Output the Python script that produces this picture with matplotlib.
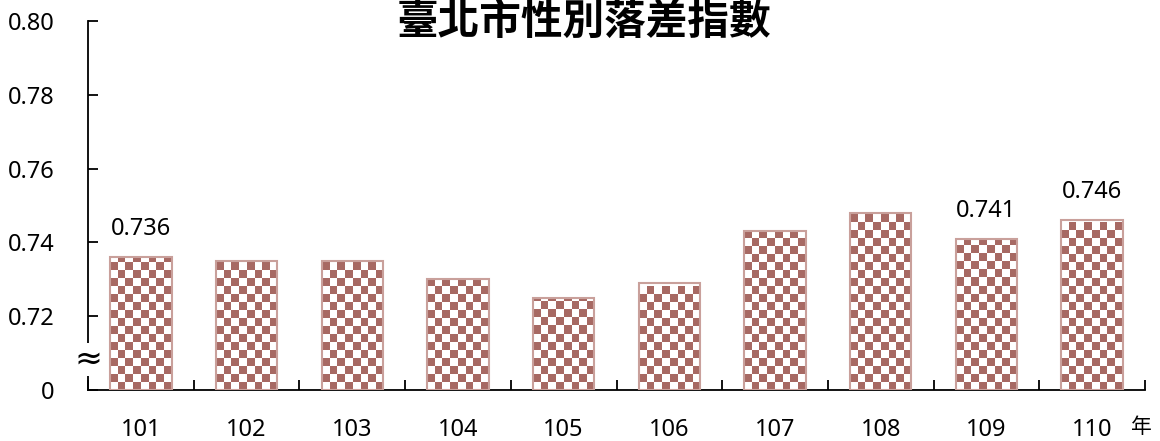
import numpy as np
import matplotlib
matplotlib.use("Agg")
import matplotlib.pyplot as plt
from matplotlib.colors import ListedColormap

plt.rcParams['font.family'] = ['Noto Sans', 'Noto Sans CJK TC', 'DejaVu Sans']

# datos
anios = ['101', '102', '103', '104', '105', '106', '107', '108', '109', '110']
valores = [0.736, 0.735, 0.735, 0.730, 0.725, 0.729, 0.743, 0.748, 0.741, 0.746]
etiquetas_valor = {0: '0.736', 8: '0.741', 9: '0.746'}
y_ticks = [0.70, 0.72, 0.74, 0.76, 0.78, 0.80]
y_labels = ['0', '0.72', '0.74', '0.76', '0.78', '0.80']
titulo = '臺北市性別落差指數'

marron = '#A76963'
borde = '#C9A09B'
base = 0.70

fig = plt.figure(figsize=(11.6, 4.41), dpi=100)
ax = fig.add_axes([88 / 1160, 51 / 441, 1057 / 1160, 369 / 441])

x = np.arange(len(anios))
ancho = 0.58
barras = ax.bar(x, np.array(valores) - base, bottom=base, width=ancho,
                facecolor='none', edgecolor=borde, linewidth=1.5, zorder=3)

ax.set_xlim(-0.5, len(anios) - 0.5)
ax.set_ylim(base, 0.80)

# relleno de cuadros (tablero) recortado a cada barra
px_x = 1057 / len(anios)
px_y = 369 / (0.80 - base)
cmap = ListedColormap(['white', marron])
for rect, v in zip(barras, valores):
    nx = max(1, int(round(ancho * px_x / 8)))
    ny = max(1, int(round((v - base) * px_y / 8)))
    tablero = (np.add.outer(np.arange(ny), np.arange(nx)) % 2).astype(float)
    x0 = rect.get_x()
    img = ax.imshow(tablero, cmap=cmap, vmin=0, vmax=1, interpolation='nearest',
                    extent=[x0, x0 + ancho, base, base + ny * 8 / px_y],
                    origin='lower', aspect='auto', zorder=2)
    img.set_clip_path(rect)

ax.set_xlim(-0.5, len(anios) - 0.5)
ax.set_ylim(base, 0.80)

for i, txt in etiquetas_valor.items():
    ax.text(x[i], valores[i] + 0.0076, txt, ha='center', va='center',
            fontsize=17, color='black')

# ejes
for lado in ['top', 'right']:
    ax.spines[lado].set_visible(False)
for lado in ['left', 'bottom']:
    ax.spines[lado].set_linewidth(1.3)
    ax.spines[lado].set_color('black')

ax.set_yticks(y_ticks)
ax.set_yticklabels(y_labels)
ax.set_xticks(np.arange(len(anios) + 1) - 0.5)
ax.set_xticklabels([])
ax.set_xticks(x, minor=True)
ax.set_xticklabels(anios, minor=True)
ax.tick_params(axis='y', direction='in', length=7, width=1.3, pad=24, labelsize=17)
ax.tick_params(axis='x', which='major', direction='in', length=7, width=1.3)
ax.tick_params(axis='x', which='minor', length=0, pad=20, labelsize=17)

# símbolo de corte del eje
ax.text(0, 0.7083, '≈', transform=ax.get_yaxis_transform(), ha='center',
        va='center', fontsize=24, color='black', zorder=5,
        family=['DejaVu Sans'], clip_on=False,
        bbox=dict(boxstyle='square,pad=0.0', facecolor='white',
                  edgecolor='none'))

ax.text(1141 / 1160, 14 / 441, '年', transform=fig.transFigure, ha='center',
        va='center', fontsize=15, family=['Noto Sans CJK TC'])

fig.text(584 / 1160, 1 - 22 / 441, titulo, ha='center', va='center',
         fontsize=30, fontweight='bold', family=['Noto Sans CJK TC'])

fig.savefig('out.png', dpi=100)
